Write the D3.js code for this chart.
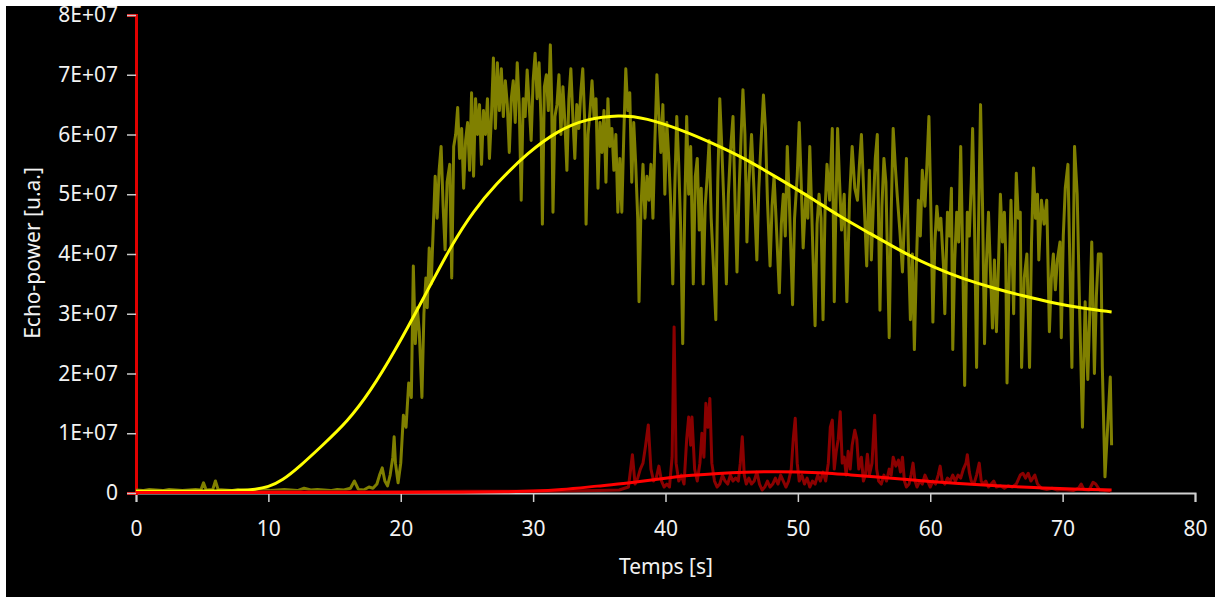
<!DOCTYPE html>
<html>
<head>
<meta charset="utf-8">
<script src="https://cdn.jsdelivr.net/npm/d3@7/dist/d3.min.js"></script>
<style>
    body { margin: 0; background: #fff; }
    svg text { font-family: 'Noto Sans', 'Open Sans', sans-serif; }
</style>
</head>
<body>
<svg id="chart" width="1215" height="597"></svg>
<script>
// values are in units of 1E+07
const xTicks = [0, 10, 20, 30, 40, 50, 60, 70, 80]
const yTicks = [0, 1, 2, 3, 4, 5, 6, 7, 8]
const yTickLabels = ['0', '1E+07', '2E+07', '3E+07', '4E+07', '5E+07', '6E+07', '7E+07', '8E+07']

// [time s, echo power]
const echoRaw = [
    [0,0.05],[0.5,0.04],[1,0.06],[1.5,0.05],[2,0.04],[2.5,0.06],[3,0.05],[3.5,0.04],[4,0.05],[4.5,0.06],
    [4.9,0.05],[5.1,0.17],[5.3,0.05],[5.8,0.06],[6.0,0.2],[6.2,0.06],[6.7,0.05],[7.2,0.04],[7.7,0.06],[8.2,0.05],
    [8.7,0.04],[9.2,0.05],[9.7,0.06],[10.2,0.04],[10.7,0.05],[11.2,0.06],[11.7,0.05],[12.2,0.04],[12.7,0.08],[13.2,0.05],
    [13.7,0.06],[14.2,0.05],[14.7,0.04],[15.2,0.06],[15.7,0.05],[16.2,0.08],[16.5,0.2],[16.8,0.06],[17.2,0.05],[17.6,0.1],
    [17.9,0.08],[18.2,0.15],[18.4,0.3],[18.6,0.42],[18.8,0.2],[19.0,0.12],[19.2,0.3],[19.4,0.6],[19.5,0.94],[19.6,0.5],
    [19.8,0.17],[20.0,0.5],[20.2,1.3],[20.4,1.1],[20.6,1.84],[20.8,1.6],[20.95,3.8],[21.1,2.5],[21.25,3.1],[21.4,2.7],
    [21.6,1.6],[21.75,3.0],[21.9,3.6],[22.0,3.1],[22.15,4.1],[22.3,3.5],[22.45,4.4],[22.6,5.3],[22.75,4.6],[22.9,5.4],
    [23.05,5.8],[23.2,4.8],[23.35,4.07],[23.5,5.2],[23.7,5.5],[23.85,3.6],[24.0,5.8],[24.15,6.0],[24.3,6.45],[24.45,5.6],
    [24.6,6.1],[24.75,5.1],[24.9,5.9],[25.05,6.2],[25.2,5.4],[25.35,6.7],[25.5,5.3],[25.65,6.6],[25.8,6.0],[25.95,6.5],
    [26.1,5.5],[26.25,6.4],[26.4,6.0],[26.55,6.6],[26.7,5.6],[26.85,6.3],[27.0,7.28],[27.15,6.1],[27.3,7.2],[27.45,6.4],
    [27.6,7.1],[27.75,6.3],[27.9,6.9],[28.05,6.5],[28.2,5.7],[28.35,6.6],[28.5,6.9],[28.65,6.2],[28.8,7.2],[28.95,6.5],
    [29.1,4.9],[29.25,6.6],[29.4,6.3],[29.55,7.08],[29.7,6.5],[29.85,5.9],[30.0,6.9],[30.15,7.36],[30.3,6.6],[30.45,7.2],
    [30.6,6.2],[30.7,4.5],[30.85,6.8],[31.0,7.0],[31.15,6.4],[31.3,7.5],[31.4,6.6],[31.5,4.7],[31.65,6.3],[31.8,6.5],
    [31.95,7.0],[32.1,6.0],[32.25,6.8],[32.4,6.2],[32.55,5.4],[32.7,6.6],[32.85,7.1],[33.0,6.3],[33.15,5.6],[33.3,6.5],
    [33.45,6.1],[33.6,6.7],[33.75,7.1],[33.9,6.2],[34.0,4.5],[34.15,6.0],[34.3,6.4],[34.45,6.9],[34.6,6.3],[34.75,6.6],
    [34.9,5.1],[35.05,6.2],[35.2,5.7],[35.35,6.4],[35.5,5.2],[35.65,6.6],[35.8,5.8],[35.95,6.1],[36.1,5.4],[36.25,6.0],
    [36.4,4.7],[36.55,5.6],[36.7,4.7],[36.85,6.0],[37.0,7.1],[37.15,6.4],[37.3,6.7],[37.45,5.2],[37.6,6.2],[37.75,5.5],
    [37.9,4.6],[38.0,3.2],[38.15,4.8],[38.3,5.5],[38.45,4.6],[38.6,5.3],[38.75,4.9],[38.9,5.5],[39.05,4.6],[39.2,5.9],
    [39.35,7.0],[39.5,6.3],[39.65,5.7],[39.8,6.5],[39.95,5.0],[40.1,6.2],[40.25,5.6],[40.4,4.8],[40.55,3.5],[40.7,5.1],
    [40.85,6.3],[41.0,5.5],[41.15,4.4],[41.3,2.5],[41.45,4.7],[41.6,6.3],[41.75,5.0],[41.9,5.8],[42.1,3.5],[42.25,5.3],
    [42.4,5.6],[42.55,4.4],[42.7,5.1],[42.85,3.5],[43.0,4.8],[43.15,5.3],[43.3,5.9],[43.45,4.6],[43.6,3.9],[43.8,2.9],
    [43.95,5.2],[44.1,6.6],[44.25,5.8],[44.4,4.9],[44.6,3.5],[44.75,5.0],[44.9,5.7],[45.1,6.3],[45.25,4.9],[45.4,3.7],
    [45.55,5.0],[45.7,5.9],[45.85,6.75],[46.0,6.0],[46.15,4.2],[46.3,5.2],[46.5,6.0],[46.7,5.0],[46.9,3.9],[47.05,5.1],
    [47.2,5.8],[47.4,6.66],[47.55,6.1],[47.7,4.9],[47.9,3.8],[48.05,4.8],[48.2,5.3],[48.35,4.6],[48.6,3.35],[48.75,4.5],
    [48.9,5.0],[49.05,4.3],[49.2,5.8],[49.35,4.9],[49.6,3.15],[49.75,4.6],[49.95,5.3],[50.1,6.2],[50.25,5.2],[50.4,4.1],
    [50.6,5.0],[50.75,4.6],[50.9,5.8],[51.1,4.3],[51.3,2.8],[51.45,4.5],[51.6,5.0],[51.75,4.6],[51.9,2.9],[52.05,4.7],
    [52.2,5.5],[52.4,4.9],[52.6,6.1],[52.75,3.2],[52.85,4.5],[53.0,6.1],[53.15,5.2],[53.3,4.4],[53.5,5.0],[53.7,3.2],
    [53.9,4.9],[54.1,5.8],[54.3,5.1],[54.5,4.9],[54.65,5.5],[54.8,6.0],[55.0,4.9],[55.2,3.8],[55.4,5.4],[55.55,3.9],
    [55.7,4.8],[55.85,5.6],[56.0,6.0],[56.2,3.06],[56.35,4.8],[56.5,5.6],[56.65,5.2],[56.9,2.6],[57.05,4.7],[57.2,6.1],
    [57.35,5.5],[57.5,5.0],[57.7,4.4],[57.9,3.7],[58.05,4.6],[58.2,5.6],[58.35,4.1],[58.5,2.9],[58.65,4.0],[58.8,2.4],
    [58.95,3.8],[59.1,4.9],[59.25,4.3],[59.4,5.4],[59.6,4.8],[59.75,5.5],[59.9,6.3],[60.05,4.7],[60.2,2.86],[60.35,4.2],
    [60.5,4.8],[60.65,4.4],[60.8,4.6],[61.0,3.8],[61.1,3.0],[61.3,4.7],[61.45,4.3],[61.6,5.1],[61.7,2.4],[61.85,3.9],
    [62.0,4.7],[62.15,4.2],[62.3,5.8],[62.45,4.0],[62.6,1.8],[62.8,4.7],[62.95,4.3],[63.1,5.2],[63.2,6.1],[63.35,4.4],
    [63.5,2.1],[63.65,4.5],[63.8,6.5],[63.95,4.8],[64.1,2.5],[64.25,3.9],[64.4,4.7],[64.55,3.7],[64.7,2.76],[64.85,3.9],
    [65.0,2.7],[65.15,3.8],[65.3,5.0],[65.45,4.2],[65.6,4.7],[65.7,4.0],[65.8,1.84],[65.95,3.5],[66.1,4.9],[66.3,3.0],
    [66.4,4.3],[66.5,5.35],[66.65,4.6],[66.8,4.7],[66.9,2.1],[67.1,3.6],[67.3,4.0],[67.5,2.1],[67.65,4.2],[67.8,5.44],
    [67.95,4.6],[68.1,5.0],[68.2,3.9],[68.4,4.9],[68.6,4.5],[68.8,4.9],[69.0,2.7],[69.15,3.6],[69.3,4.0],[69.45,3.4],
    [69.6,3.9],[69.8,4.2],[69.9,2.6],[70.05,4.3],[70.2,5.1],[70.4,5.5],[70.55,3.8],[70.7,2.1],[70.9,5.8],[71.1,5.0],
    [71.3,2.9],[71.5,1.1],[71.7,3.2],[71.9,1.9],[72.05,3.0],[72.2,4.2],[72.4,2.0],[72.55,3.3],[72.7,4.0],[72.9,4.0],
    [73.0,2.1],[73.2,0.27],[73.4,1.1],[73.6,1.94],[73.7,0.8]
]

const echoFit = [
    [0,0.03],[4,0.03],[6,0.03],[8,0.04],[9,0.06],[10,0.1],[11,0.2],[12.4,0.45],[14,0.78],[16,1.2],
    [17.7,1.7],[19.5,2.35],[21.7,3.25],[23.9,4.18],[25.5,4.72],[27.1,5.15],[29.6,5.7],[31.9,6.07],[34,6.26],[36.5,6.33],
    [38.5,6.28],[41.3,6.07],[43.5,5.86],[46,5.6],[48.5,5.27],[51,4.94],[53,4.65],[55.4,4.35],[58,4.02],[60.2,3.78],
    [62.5,3.58],[64.9,3.42],[67,3.3],[69.3,3.18],[71.5,3.09],[73.7,3.03]
]

const echoRaw2 = [
    [0,0.02],[5,0.02],[10,0.02],[15,0.02],[20,0.02],[25,0.03],[30,0.03],[35,0.04],[36.5,0.05],[37.2,0.1],
    [37.5,0.64],[37.7,0.15],[37.9,0.25],[38.1,0.4],[38.3,0.5],[38.5,0.8],[38.7,1.14],[38.9,0.4],[39.1,0.2],[39.3,0.25],
    [39.5,0.45],[39.7,0.2],[39.9,0.1],[40.1,0.15],[40.3,0.1],[40.5,0.6],[40.65,2.78],[40.8,0.5],[41.0,0.2],[41.2,0.3],
    [41.4,0.15],[41.6,0.9],[41.75,1.27],[41.9,0.8],[42.0,1.27],[42.2,0.4],[42.4,0.2],[42.6,0.5],[42.75,1.0],[42.9,0.6],
    [43.05,1.5],[43.2,1.1],[43.35,1.58],[43.5,0.5],[43.7,0.2],[43.9,0.1],[44.1,0.15],[44.3,0.3],[44.5,0.2],[44.7,0.15],
    [44.9,0.3],[45.1,0.2],[45.3,0.25],[45.5,0.2],[45.65,0.5],[45.8,0.94],[45.95,0.3],[46.1,0.15],[46.3,0.25],[46.5,0.15],
    [46.7,0.2],[46.9,0.35],[47.1,0.15],[47.3,0.05],[47.5,0.1],[47.7,0.2],[47.9,0.1],[48.1,0.15],[48.3,0.25],[48.5,0.15],
    [48.7,0.3],[48.9,0.2],[49.1,0.1],[49.3,0.2],[49.5,0.4],[49.65,0.9],[49.8,1.25],[49.95,0.5],[50.1,0.2],[50.3,0.3],
    [50.5,0.15],[50.7,0.25],[50.9,0.1],[51.1,0.2],[51.3,0.15],[51.5,0.3],[51.7,0.2],[51.9,0.35],[52.1,0.2],[52.3,0.5],
    [52.45,1.1],[52.6,1.22],[52.75,0.4],[52.9,0.7],[53.05,0.9],[53.2,1.36],[53.35,0.5],[53.5,0.6],[53.65,0.3],[53.8,0.7],
    [53.95,0.4],[54.1,0.8],[54.3,1.05],[54.45,0.9],[54.6,0.4],[54.8,0.6],[54.95,0.2],[55.1,0.3],[55.25,0.65],[55.4,0.3],
    [55.6,0.5],[55.8,1.3],[55.95,0.4],[56.1,0.2],[56.3,0.15],[56.5,0.3],[56.7,0.2],[56.9,0.4],[57.05,0.3],[57.2,0.6],
    [57.4,0.45],[57.6,0.55],[57.75,0.35],[57.9,0.6],[58.05,0.2],[58.2,0.1],[58.4,0.15],[58.55,0.3],[58.7,0.5],[58.85,0.2],
    [59.0,0.1],[59.2,0.2],[59.4,0.15],[59.6,0.3],[59.8,0.2],[60.0,0.1],[60.2,0.2],[60.4,0.15],[60.6,0.3],[60.75,0.45],
    [60.9,0.2],[61.1,0.15],[61.3,0.25],[61.5,0.2],[61.7,0.3],[61.9,0.2],[62.1,0.3],[62.3,0.25],[62.5,0.4],[62.7,0.5],
    [62.8,0.64],[62.95,0.35],[63.1,0.2],[63.3,0.15],[63.5,0.3],[63.7,0.5],[63.85,0.2],[64.0,0.15],[64.2,0.2],[64.4,0.1],
    [64.6,0.15],[64.8,0.2],[65.0,0.1],[65.3,0.12],[65.6,0.08],[65.9,0.12],[66.2,0.1],[66.5,0.15],[66.8,0.3],[67.0,0.33],
    [67.2,0.25],[67.4,0.33],[67.6,0.2],[67.9,0.3],[68.1,0.15],[68.4,0.08],[68.8,0.06],[69.2,0.08],[69.6,0.05],[70.0,0.06],
    [70.4,0.05],[70.8,0.04],[71.2,0.08],[71.4,0.15],[71.6,0.06],[72.0,0.05],[72.3,0.18],[72.5,0.15],[72.8,0.05],[73.2,0.04],
    [73.6,0.03]
]

const echoFit2 = [
    [0,0.01],[20,0.01],[25,0.01],[28,0.02],[30,0.03],[32,0.05],[35,0.12],[37,0.16],[40,0.25],[42,0.3],
    [44,0.33],[46,0.35],[48,0.36],[50,0.355],[52,0.34],[54,0.3],[56,0.27],[58,0.23],[60,0.19],[62,0.16],
    [65,0.12],[68,0.09],[70,0.07],[73.7,0.05]
]

let svg = d3.select('#chart')

svg.append('rect')
    .attr('x', 6)
    .attr('y', 6)
    .attr('width', 1209)
    .attr('height', 591)
    .attr('fill', '#000')

let x = d3.scaleLinear().domain([0, 80]).range([136, 1195])
let y = d3.scaleLinear().domain([0, 8]).range([493, 15])

let fontSize = 21

let xAxis = svg.append('g')
    .attr('transform', 'translate(0,493)')
    .call(d3.axisBottom(x).tickValues(xTicks).tickSizeOuter(0).tickSize(9).tickPadding(19))
xAxis.select('.domain').attr('stroke', '#d0d0d0').attr('stroke-width', 2)
xAxis.selectAll('.tick line').attr('stroke', '#d0d0d0').attr('stroke-width', 1.5)
xAxis.selectAll('.tick text')
    .attr('fill', '#f2f2f2')
    .style('font-size', fontSize + 'px')

let yAxis = svg.append('g')
    .attr('transform', 'translate(136,0)')
    .call(d3.axisLeft(y).tickValues(yTicks).tickFormat((d, i) => yTickLabels[i]).tickSizeOuter(0).tickSize(9).tickPadding(9))
yAxis.select('.domain').attr('stroke', '#e00000').attr('stroke-width', 3)
yAxis.selectAll('.tick line').attr('stroke', '#c8c8c8').attr('stroke-width', 1.5)
yAxis.selectAll('.tick text')
    .attr('fill', '#f2f2f2')
    .style('font-size', fontSize + 'px')

let rawLine = d3.line()
    .x(d => x(d[0]))
    .y(d => y(d[1]))

let fitLine = d3.line()
    .x(d => x(d[0]))
    .y(d => y(d[1]))
    .curve(d3.curveBasis)

svg.append('path')
    .datum(echoRaw)
    .attr('d', rawLine)
    .attr('fill', 'none')
    .attr('stroke', '#808000')
    .attr('stroke-width', 3)
    .attr('stroke-linejoin', 'round')

svg.append('path')
    .datum(echoRaw2)
    .attr('d', rawLine)
    .attr('fill', 'none')
    .attr('stroke', '#8b0000')
    .attr('stroke-width', 3)
    .attr('stroke-linejoin', 'round')

svg.append('path')
    .datum(echoFit)
    .attr('d', fitLine)
    .attr('fill', 'none')
    .attr('stroke', '#ffff00')
    .attr('stroke-width', 3)

svg.append('path')
    .datum(echoFit2)
    .attr('d', fitLine)
    .attr('fill', 'none')
    .attr('stroke', '#ff0000')
    .attr('stroke-width', 3)

svg.append('text')
    .attr('x', 666)
    .attr('y', 574)
    .attr('text-anchor', 'middle')
    .attr('fill', '#f2f2f2')
    .style('font-size', fontSize + 'px')
    .text('Temps [s]')

svg.append('text')
    .attr('transform', 'translate(40,253) rotate(-90)')
    .attr('text-anchor', 'middle')
    .attr('fill', '#f2f2f2')
    .style('font-size', fontSize + 'px')
    .text('Echo-power [u.a.]')
</script>
</body>
</html>
